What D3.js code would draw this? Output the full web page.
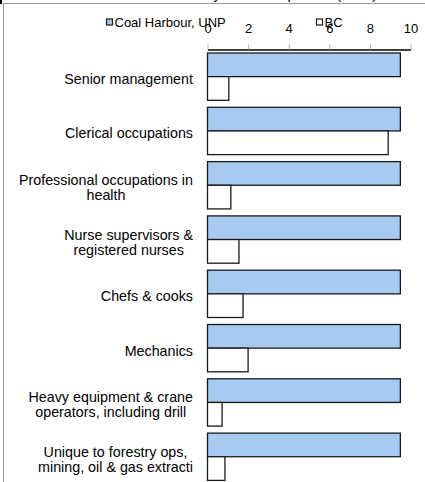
<!DOCTYPE html>
<html>
<head>
<meta charset="utf-8">
<script src="https://cdn.jsdelivr.net/npm/d3@7"></script>
<style>
  body { margin: 0; background: #fff; }
  svg { display: block; font-family: "Liberation Sans", Arial, sans-serif; }
</style>
</head>
<body>
<svg width="425" height="482"></svg>
<script>
// data
var categories = [
  ["Senior management"],
  ["Clerical occupations"],
  ["Professional occupations in", "health"],
  ["Nurse supervisors &", "registered nurses"],
  ["Chefs & cooks"],
  ["Mechanics"],
  ["Heavy equipment & crane", "operators, including drill"],
  ["Unique to forestry ops,", "mining, oil & gas extracti"]
];
var seriesNames = ["Coal Harbour, UNP", "BC"];
var coalHarbour = [9.5, 9.5, 9.5, 9.5, 9.5, 9.5, 9.5, 9.5];
var bc = [1.05, 8.9, 1.15, 1.55, 1.75, 2.0, 0.72, 0.86];
var xTicks = [0, 2, 4, 6, 8, 10];
var colors = ["#a6caf0", "#ffffff"];

var svg = d3.select("svg");

// frame bits at the top / left edge
svg.append("line").attr("x1", 3).attr("x2", 425).attr("y1", 3.5).attr("y2", 3.5)
  .attr("stroke", "#9a9a9a");
svg.append("line").attr("x1", 3.5).attr("x2", 3.5).attr("y1", 3).attr("y2", 482)
  .attr("stroke", "#9a9a9a");
svg.append("rect").attr("x", 0).attr("y", 0).attr("width", 2).attr("height", 4).attr("fill", "#000");

// title, mostly cut off above the picture
svg.append("text")
  .attr("x", 377).attr("y", -1)
  .attr("text-anchor", "end")
  .attr("font-size", 14)
  .text("Relative intensity of all occupations (2006)");

var axisY = 49.5;
var x = d3.scaleLinear().domain([0, 10]).range([207.5, 410.5]);

var y = d3.scaleBand()
  .domain(d3.range(categories.length))
  .range([axisY, axisY + 8 * 54.3])
  .paddingInner(0.129)
  .paddingOuter(0.0645);

var ySub = d3.scaleBand().domain([0, 1]).range([0, y.bandwidth()]);

// bars
var rows = categories.map(function(c, i) { return [coalHarbour[i], bc[i]]; });
var groups = svg.append("g").selectAll("g")
  .data(rows).enter().append("g")
  .attr("transform", function(d, i) { return "translate(0," + y(i) + ")"; });

groups.selectAll("rect")
  .data(function(d) { return d; })
  .enter().append("rect")
  .attr("x", x(0))
  .attr("y", function(d, j) { return ySub(j); })
  .attr("width", function(d) { return x(d) - x(0); })
  .attr("height", ySub.bandwidth())
  .attr("fill", function(d, j) { return colors[j]; })
  .attr("stroke", "#1a1a1a")
  .attr("stroke-width", 1.3);

// axis on top
var axis = svg.append("g")
  .attr("transform", "translate(0," + axisY + ")")
  .call(d3.axisTop(x).tickValues(xTicks).tickSize(5).tickSizeOuter(0).tickPadding(12));
axis.select(".domain").attr("stroke", "#000").attr("stroke-width", 1.5);
axis.selectAll(".tick line").attr("stroke", "#b0b0b0");
axis.selectAll(".tick text")
  .attr("font-size", 13)
  .attr("font-family", "Liberation Sans, Arial, sans-serif")
  .attr("fill", "#000");

// category labels, centred lines, right edge at 193
var labels = svg.append("g").attr("font-size", 14.3).attr("fill", "#000");
categories.forEach(function(lines, i) {
  var t = labels.append("text").attr("text-anchor", "middle");
  var cy = y(i) + y.bandwidth() / 2;
  lines.forEach(function(s, k) {
    t.append("tspan")
      .attr("y", cy + 7.5 + (k - (lines.length - 1) / 2) * 15)
      .text(s);
  });
  var w = 0;
  t.selectAll("tspan").each(function() { w = Math.max(w, this.getComputedTextLength()); });
  t.selectAll("tspan").attr("x", 193 - w / 2);
});

// legend
var legendX = [106.5, 316.5];
var leg = svg.append("g").attr("font-size", 13);
seriesNames.forEach(function(n, i) {
  leg.append("rect")
    .attr("x", legendX[i]).attr("y", 19)
    .attr("width", 6).attr("height", 6)
    .attr("fill", colors[i]).attr("stroke", "#1a1a1a").attr("stroke-width", 1.2);
  leg.append("text")
    .attr("x", legendX[i] + 8).attr("y", 26.5)
    .text(n);
});
</script>
</body>
</html>
